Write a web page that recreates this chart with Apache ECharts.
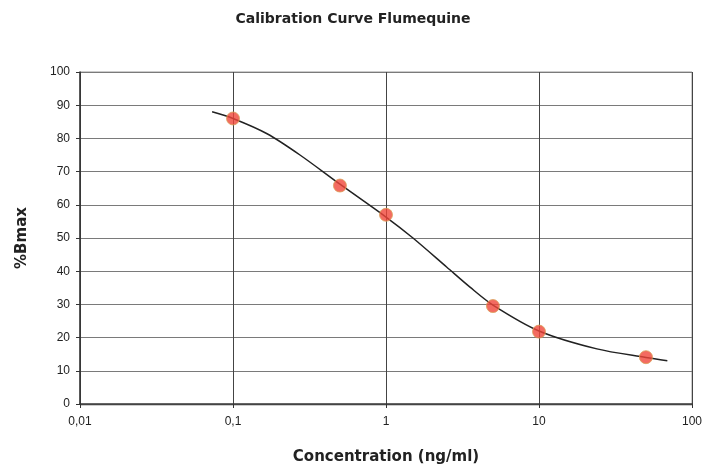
<!DOCTYPE html>
<html>
<head>
<meta charset="utf-8">
<script src="https://cdn.jsdelivr.net/npm/echarts@6/dist/echarts.min.js"></script>
<style>html,body{margin:0;padding:0;background:#fff}#c{width:706px;height:470px}</style>
</head>
<body>
<div id="c"></div>
<script>
const title = 'Calibration Curve Flumequine';
const xName = 'Concentration (ng/ml)';
const yName = '%Bmax';
// measured standards
const pointConc = [0.1, 0.5, 1, 5, 10, 50];
const pointVal = [86, 65.8, 57, 29.5, 21.8, 14.1];
// fitted curve
const curveConc = [0.073, 0.1, 0.167, 0.274, 0.5, 1, 1.5, 2.5, 3.54, 5, 10, 23.9, 50, 69];
const curveVal = [88, 86, 81.4, 75.0, 66.2, 56.3, 50.0, 41.2, 35.2, 29.8, 22.0, 16.6, 14.0, 13.0];

const chart = echarts.init(document.getElementById('c'));
const font = 'Liberation Sans, Arial, sans-serif';
const boldFont = 'DejaVu Sans, sans-serif';
chart.setOption({
  animation: false,
  title: {
    text: title, left: 'center', top: 7,
    textStyle: {fontFamily: boldFont, fontSize: 14, fontWeight: 'bold', color: '#222'}
  },
  grid: {left: 80, right: 14, top: 72, bottom: 65},
  xAxis: {
    type: 'log', logBase: 10, min: 0.01, max: 100,
    name: xName, nameLocation: 'middle', nameGap: 46,
    nameTextStyle: {fontFamily: boldFont, fontSize: 15, fontWeight: 'bold', color: '#222'},
    axisLine: {lineStyle: {color: '#333', width: 1.5}},
    axisTick: {show: true, length: 4, lineStyle: {color: '#333'}},
    axisLabel: {fontFamily: font, fontSize: 12, color: '#222', margin: 12,
      formatter: v => String(v).replace('.', ',')},
    splitLine: {show: true, lineStyle: {color: '#444', width: 1}},
    minorTick: {show: false}
  },
  yAxis: {
    type: 'value', min: 0, max: 100, interval: 10,
    name: yName, nameLocation: 'middle', nameGap: 50, nameRotate: 90,
    nameTextStyle: {fontFamily: boldFont, fontSize: 15, fontWeight: 'bold', color: '#222'},
    axisLine: {show: true, lineStyle: {color: '#333', width: 1.5}},
    axisTick: {show: true, length: 4, lineStyle: {color: '#333'}},
    axisLabel: {fontFamily: font, fontSize: 12, color: '#222', margin: 10},
    splitLine: {show: true, lineStyle: {color: '#7a7a7a', width: 1}}
  },
  series: [
    {
      type: 'line', data: curveConc.map((c, i) => [c, curveVal[i]]),
      smooth: 0.3, showSymbol: false, symbol: 'none',
      lineStyle: {color: '#222', width: 1.5}, z: 2
    },
    {
      type: 'scatter', data: pointConc.map((c, i) => [c, pointVal[i]]),
      symbol: 'circle', symbolSize: 13,
      itemStyle: {color: '#f0463a', borderColor: '#d9a058', borderWidth: 1}, z: 3
    }
  ],
  graphic: [{
    type: 'rect', shape: {x: 80, y: 72, width: 612, height: 333},
    style: {fill: 'none', stroke: '#999', lineWidth: 1}, silent: true, z: 0
  }]
});
</script>
</body>
</html>
